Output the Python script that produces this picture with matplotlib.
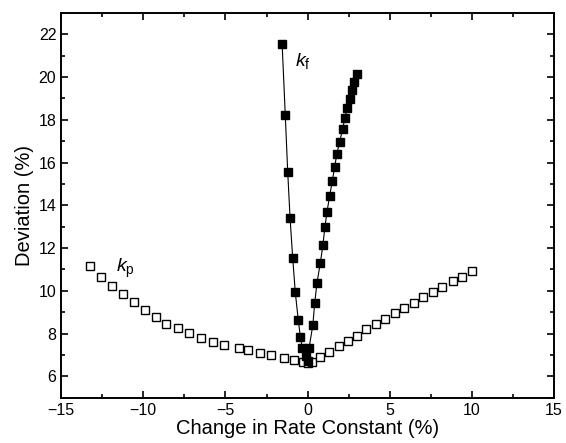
import matplotlib
matplotlib.use("Agg")
import matplotlib.pyplot as plt
from matplotlib.ticker import MultipleLocator

plt.rcParams['font.family'] = ['Liberation Sans', 'DejaVu Sans']
plt.rcParams['mathtext.fontset'] = 'custom'
plt.rcParams['mathtext.rm'] = 'Liberation Sans'
plt.rcParams['mathtext.it'] = 'Liberation Sans:italic'

# k_p sweep (open squares)
kp_change = [-13.22, -12.58, -11.89, -11.26, -10.57, -9.91, -9.24, -8.59, -7.90, -7.21,
             -6.51, -5.78, -5.11, -4.20, -3.61, -2.88, -2.23, -1.45, -0.84, -0.31,
             0.05, 0.29, 0.78, 1.33, 1.93, 2.48, 3.03, 3.57, 4.18, 4.73,
             5.31, 5.88, 6.49, 7.03, 7.64, 8.19, 8.82, 9.38, 10.01]
kp_dev = [11.15, 10.64, 10.24, 9.85, 9.50, 9.12, 8.77, 8.47, 8.26, 8.04,
          7.81, 7.59, 7.48, 7.34, 7.22, 7.11, 6.99, 6.88, 6.77, 6.69,
          6.64, 6.68, 6.89, 7.14, 7.42, 7.67, 7.91, 8.22, 8.46, 8.69,
          8.95, 9.20, 9.45, 9.70, 9.95, 10.18, 10.44, 10.66, 10.92]

# k_f sweep (filled squares, joined)
kf_change = [-1.55, -1.36, -1.21, -1.07, -0.91, -0.75, -0.57, -0.44, -0.32, -0.07,
             0.03, 0.09, 0.32, 0.43, 0.57, 0.77, 0.93, 1.05, 1.18, 1.34,
             1.50, 1.64, 1.78, 1.95, 2.13, 2.27, 2.41, 2.55, 2.71, 2.83, 3.02]
kf_dev = [21.52, 18.22, 15.54, 13.43, 11.56, 9.93, 8.64, 7.84, 7.32, 6.95,
          6.72, 7.34, 8.42, 9.42, 10.38, 11.29, 12.14, 12.97, 13.70, 14.44,
          15.12, 15.78, 16.40, 16.98, 17.57, 18.10, 18.55, 18.96, 19.37, 19.78, 20.15]

fig = plt.figure(figsize=(5.66, 4.43), dpi=100)
ax = fig.add_axes([0.108, 0.102, 0.871, 0.869])

ax.plot(kf_change, kf_dev, color='black', lw=0.8, marker='s', ms=5.8,
        mfc='black', mec='black', zorder=3)
ax.plot(kp_change, kp_dev, ls='none', marker='s', ms=5.8, mfc='white',
        mec='black', mew=1.0, zorder=2)

ax.text(-0.78, 20.5, r'$k_\mathrm{f}$', fontsize=14)
ax.text(-11.65, 10.9, r'$k_\mathrm{p}$', fontsize=14)

ax.set_xlim(-15, 15)
ax.set_ylim(5, 23)
ax.xaxis.set_major_locator(MultipleLocator(5))
ax.xaxis.set_minor_locator(MultipleLocator(2.5))
ax.yaxis.set_major_locator(MultipleLocator(2))
ax.yaxis.set_minor_locator(MultipleLocator(1))
ax.tick_params(which='both', direction='in', top=True, right=True,
               width=1.2, labelsize=11.5)
ax.tick_params(which='major', length=5)
ax.tick_params(which='minor', length=3)
for s in ax.spines.values():
    s.set_linewidth(1.4)

ax.set_xlabel('Change in Rate Constant (%)', fontsize=14.5, labelpad=1)
ax.set_ylabel('Deviation (%)', fontsize=14.5, labelpad=3)

fig.savefig('out.png', dpi=100)
